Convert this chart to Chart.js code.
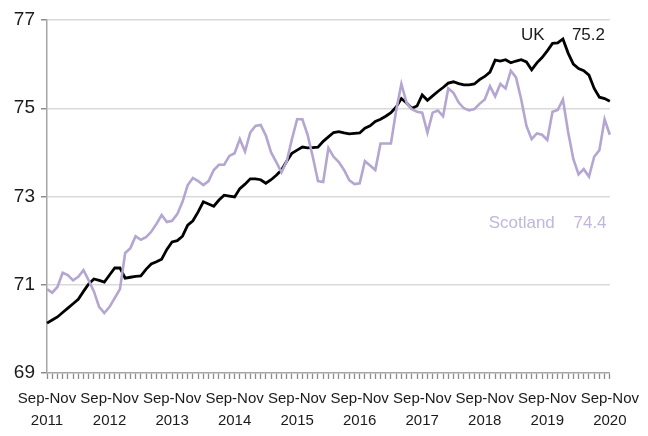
<!DOCTYPE html>
<html>
<head>
<meta charset="utf-8">
<script src="https://cdn.jsdelivr.net/npm/chart.js@4/dist/chart.umd.min.js"></script>
<style>
  html, body { margin: 0; padding: 0; background: #fff; }
  #wrap { width: 648px; height: 436px; }
</style>
</head>
<body>
<div id="wrap"><canvas id="rateChart"></canvas></div>
<script>
// rolling three-month periods, Sep-Nov 2011 to Sep-Nov 2020
var months = ["Jan","Feb","Mar","Apr","May","Jun","Jul","Aug","Sep","Oct","Nov","Dec"];
var periods = [];
for (var k = 0; k < 109; k++) {
    var m = (8 + k) % 12;
    var yr = 2011 + Math.floor((8 + k + 2) / 12);
    periods.push(months[m] + "-" + months[(m + 2) % 12] + " " + yr);
}

var ukRate = [
    70.13, 70.2, 70.27, 70.37, 70.47, 70.57, 70.67, 70.85, 71.02, 71.13,
    71.1, 71.06, 71.22, 71.38, 71.38, 71.15, 71.17, 71.19, 71.2, 71.35,
    71.47, 71.52, 71.58, 71.8, 71.97, 72.0, 72.1, 72.35, 72.45, 72.65,
    72.88, 72.83, 72.78, 72.92, 73.03, 73.01, 72.99, 73.18, 73.28, 73.4,
    73.4, 73.38, 73.3, 73.38, 73.48, 73.6, 73.8, 73.98, 74.05, 74.12,
    74.1, 74.11, 74.12, 74.25, 74.35, 74.45, 74.47, 74.44, 74.42, 74.43,
    74.44, 74.55, 74.6, 74.7, 74.75, 74.82, 74.9, 75.03, 75.22, 75.12,
    75.0, 75.05, 75.3, 75.18, 75.28, 75.38, 75.47, 75.57, 75.6, 75.56,
    75.53, 75.53, 75.55, 75.65, 75.72, 75.82, 76.09, 76.07, 76.1, 76.03,
    76.07, 76.1, 76.05, 75.87, 76.03, 76.15, 76.3, 76.47, 76.48, 76.57,
    76.25, 76.0, 75.9, 75.85, 75.75, 75.45, 75.25, 75.22, 75.16
];

var scotlandRate = [
    70.9, 70.82, 70.95, 71.27, 71.22, 71.1, 71.18, 71.33, 71.1, 70.85,
    70.5, 70.36, 70.5, 70.7, 70.9, 71.72, 71.83, 72.1, 72.02, 72.08,
    72.2, 72.38, 72.58, 72.42, 72.45, 72.6, 72.88, 73.26, 73.42, 73.35,
    73.26, 73.35, 73.6, 73.72, 73.72, 73.92, 73.98, 74.3, 74.02, 74.45,
    74.6, 74.62, 74.38, 74.0, 73.78, 73.55, 73.8, 74.3, 74.75, 74.75,
    74.4, 73.9, 73.35, 73.33, 74.1, 73.9, 73.78, 73.6, 73.37, 73.28,
    73.3, 73.8, 73.7, 73.6, 74.2, 74.2, 74.2, 74.95, 75.55, 75.12,
    74.98, 74.92, 74.9, 74.45, 74.9, 74.95, 74.82, 75.45, 75.35, 75.13,
    75.0, 74.95, 74.98, 75.1, 75.2, 75.5, 75.27, 75.55, 75.45, 75.85,
    75.7, 75.2, 74.6, 74.3, 74.43, 74.4, 74.28, 74.92, 74.96, 75.2,
    74.46, 73.85, 73.5, 73.62, 73.45, 73.9, 74.05, 74.75, 74.4
];

var yTicks = [69, 71, 73, 75, 77];

var ukColor = "#000000";
var scotColor = "#b4a6d0";

// series name + latest value, placed in data coordinates
var seriesLabels = {
    id: "seriesLabels",
    afterDatasetsDraw: function (chart) {
        var ctx = chart.ctx, xs = chart.scales.x, ys = chart.scales.y;
        var items = [
            { text: "UK", i: 93.2, v: 76.66, color: "#1a1a1a" },
            { text: String(ukRate[ukRate.length - 1].toFixed(1)), i: 103.9, v: 76.66, color: "#1a1a1a" },
            { text: "Scotland", i: 91.1, v: 72.4, color: "#c2b6dc" },
            { text: String(scotlandRate[scotlandRate.length - 1].toFixed(1)), i: 104.2, v: 72.4, color: "#c2b6dc" }
        ];
        ctx.save();
        ctx.font = "17px 'Liberation Sans', Arial, sans-serif";
        ctx.textAlign = "center";
        ctx.textBaseline = "middle";
        items.forEach(function (it) {
            ctx.fillStyle = it.color;
            ctx.fillText(it.text, xs.getPixelForValue(it.i), ys.getPixelForValue(it.v));
        });
        ctx.restore();
    }
};

var rateChart = new Chart(document.getElementById("rateChart"), {
    type: "line",
    data: {
        labels: periods,
        datasets: [{
                label: "Scotland",
                data: scotlandRate,
                borderColor: scotColor,
                borderWidth: 2.6,
                pointRadius: 0,
                tension: 0
            }, {
                label: "UK",
                data: ukRate,
                borderColor: ukColor,
                borderWidth: 2.8,
                pointRadius: 0,
                tension: 0
            }]
    },
    options: {
        responsive: true,
        maintainAspectRatio: false,
        animation: false,
        layout: {
            padding: { top: 20, right: 38, bottom: 0, left: 0 }
        },
        plugins: {
            legend: { display: false },
            tooltip: { enabled: false }
        },
        scales: {
            x: {
                type: "category",
                offset: false,
                grid: {
                    display: true,
                    drawOnChartArea: false,
                    drawTicks: true,
                    tickLength: 6,
                    tickWidth: 1.3,
                    tickColor: "#8c8c8c",
                    color: "#8c8c8c"
                },
                border: { color: "#a6a6a6", width: 1.5 },
                ticks: {
                    autoSkip: false,
                    maxRotation: 0,
                    minRotation: 0,
                    padding: 9,
                    color: "#1a1a1a",
                    font: { family: "'Liberation Sans', Arial, sans-serif", size: 15, lineHeight: 1.45 },
                    callback: function (value, index) {
                        if (index % 12 !== 0) return "";
                        var p = periods[index].split(" ");
                        return [p[0], p[1]];
                    }
                },
                afterFit: function (s) { s.height = 63; }
            },
            y: {
                min: 69,
                max: 77,
                afterBuildTicks: function (s) {
                    s.ticks = yTicks.map(function (v) { return { value: v }; });
                },
                grid: {
                    color: function (c) { return c.tick && c.tick.value === 69 ? "rgba(0,0,0,0)" : "#d9d9d9"; },
                    lineWidth: 1.5,
                    tickLength: 6,
                    tickColor: "#8c8c8c"
                },
                border: { color: "#a6a6a6", width: 1.5 },
                ticks: {
                    padding: 6,
                    color: "#1a1a1a",
                    font: { family: "'Liberation Sans', Arial, sans-serif", size: 19 }
                },
                afterFit: function (s) { s.width = 47; }
            }
        }
    },
    plugins: [seriesLabels]
});
</script>
</body>
</html>
